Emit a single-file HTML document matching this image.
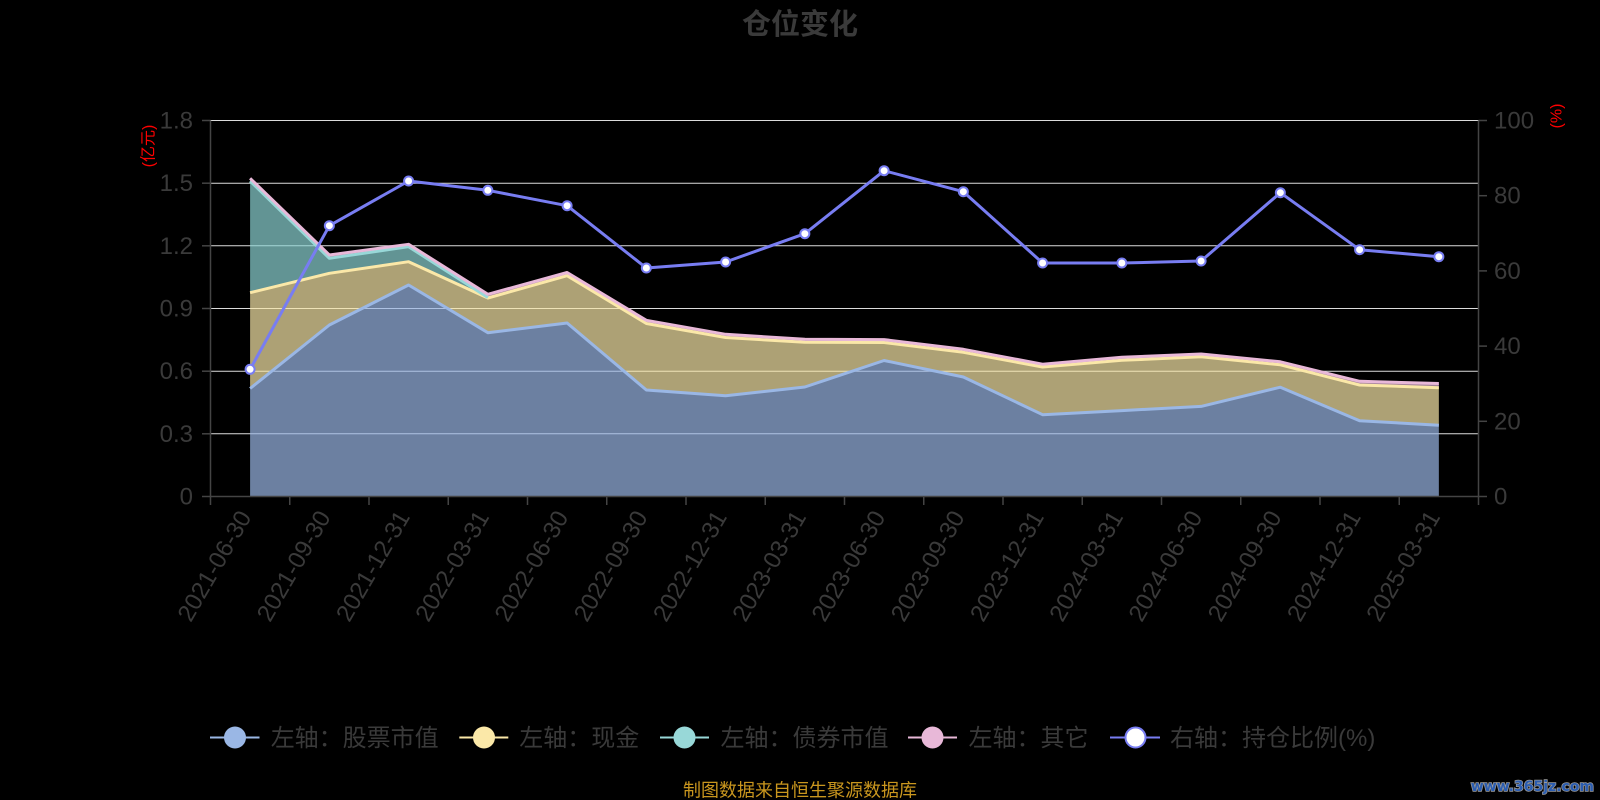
<!DOCTYPE html>
<html>
<head>
<meta charset="utf-8">
<style>
  html,body{margin:0;padding:0;background:#000;}
  svg{display:block;}
  .lat{font-family:"Liberation Sans","Noto Sans CJK SC",sans-serif;}
  .cjk{font-family:"Liberation Sans","Noto Sans CJK SC",sans-serif;}
</style>
</head>
<body>
<svg width="1600" height="800" viewBox="0 0 1600 800" xmlns="http://www.w3.org/2000/svg">
  <rect x="0" y="0" width="1600" height="800" fill="#000"/>

  <!-- Title -->
  <text x="800" y="34" text-anchor="middle" class="cjk" font-size="29" font-weight="bold" fill="#3a3a3a">仓位变化</text>

  <!-- Gridlines -->
  <g stroke="#dcdcdc" stroke-width="1">
    <line x1="210.5" y1="120.5" x2="1478.5" y2="120.5"/>
    <line x1="210.5" y1="183.2" x2="1478.5" y2="183.2"/>
    <line x1="210.5" y1="245.8" x2="1478.5" y2="245.8"/>
    <line x1="210.5" y1="308.5" x2="1478.5" y2="308.5"/>
    <line x1="210.5" y1="371.2" x2="1478.5" y2="371.2"/>
    <line x1="210.5" y1="433.8" x2="1478.5" y2="433.8"/>
  </g>

  <!-- Areas -->
  <g stroke="none">
    <polygon fill="#9ab7e5" fill-opacity="0.7" points="250.1,496.5 250.1,388.5 329.35,325 408.6,285 487.85,332.7 567.1,323 646.35,390 725.6,395.8 804.85,387 884.1,360.5 963.35,377 1042.6,414.7 1121.85,410.6 1201.1,406.4 1280.35,387.2 1359.6,420.7 1438.85,425.2 1438.85,496.5"/>
    <polygon fill="#f6e5a7" fill-opacity="0.7" points="250.1,292.7 329.35,273.3 408.6,261.7 487.85,298 567.1,275.7 646.35,323.5 725.6,337.5 804.85,342.3 884.1,342.5 963.35,352.3 1042.6,367 1121.85,360.3 1201.1,356.8 1280.35,364.8 1359.6,385 1438.85,387.7 1438.85,425.2 1359.6,420.7 1280.35,387.2 1201.1,406.4 1121.85,410.6 1042.6,414.7 963.35,377 884.1,360.5 804.85,387 725.6,395.8 646.35,390 567.1,323 487.85,332.7 408.6,285 329.35,325 250.1,388.5"/>
    <polygon fill="#8cd3d3" fill-opacity="0.7" points="250.1,181 329.35,258.3 408.6,246.7 487.85,297.5 487.85,298 408.6,261.7 329.35,273.3 250.1,292.7"/>
    <polygon fill="#e8b8d8" fill-opacity="0.7" points="250.1,178.3 329.35,255 408.6,244.3 487.85,294.3 567.1,272.5 646.35,320.3 725.6,334.3 804.85,339.3 884.1,339.6 963.35,349.3 1042.6,364.2 1121.85,357.3 1201.1,354 1280.35,361.8 1359.6,381.3 1438.85,383.5 1438.85,387.7 1359.6,385 1280.35,364.8 1201.1,356.8 1121.85,360.3 1042.6,367 963.35,352.3 884.1,342.5 804.85,342.3 725.6,337.5 646.35,323.5 567.1,275.7 487.85,297.5 408.6,246.7 329.35,258.3 250.1,181"/>
  </g>

  <!-- Area lines -->
  <g fill="none" stroke-width="3" stroke-linejoin="round">
    <polyline stroke="#9ab7e5" points="250.1,388.5 329.35,325 408.6,285 487.85,332.7 567.1,323 646.35,390 725.6,395.8 804.85,387 884.1,360.5 963.35,377 1042.6,414.7 1121.85,410.6 1201.1,406.4 1280.35,387.2 1359.6,420.7 1438.85,425.2"/>
    <polyline stroke="#fbe8a8" points="250.1,292.7 329.35,273.3 408.6,261.7 487.85,298 567.1,275.7 646.35,323.5 725.6,337.5 804.85,342.3 884.1,342.5 963.35,352.3 1042.6,367 1121.85,360.3 1201.1,356.8 1280.35,364.8 1359.6,385 1438.85,387.7"/>
    <polyline stroke="#98d8d8" points="250.1,181 329.35,258.3 408.6,246.7 487.85,297.5"/>
    <polyline stroke="#e8b8d8" points="250.1,178.3 329.35,255 408.6,244.3 487.85,294.3 567.1,272.5 646.35,320.3 725.6,334.3 804.85,339.3 884.1,339.6 963.35,349.3 1042.6,364.2 1121.85,357.3 1201.1,354 1280.35,361.8 1359.6,381.3 1438.85,383.5"/>
  </g>

  <!-- Axes -->
  <g stroke="#444" stroke-width="1.5">
    <line x1="210.5" y1="120.5" x2="210.5" y2="496.5"/>
    <line x1="1478.5" y1="120.5" x2="1478.5" y2="496.5"/>
    <line x1="210.5" y1="496.5" x2="1478.5" y2="496.5"/>
    <line x1="202" y1="120.5" x2="210.5" y2="120.5"/>
    <line x1="202" y1="183.2" x2="210.5" y2="183.2"/>
    <line x1="202" y1="245.8" x2="210.5" y2="245.8"/>
    <line x1="202" y1="308.5" x2="210.5" y2="308.5"/>
    <line x1="202" y1="371.2" x2="210.5" y2="371.2"/>
    <line x1="202" y1="433.8" x2="210.5" y2="433.8"/>
    <line x1="202" y1="496.5" x2="210.5" y2="496.5"/>
    <line x1="1478.5" y1="120.5" x2="1487" y2="120.5"/>
    <line x1="1478.5" y1="195.7" x2="1487" y2="195.7"/>
    <line x1="1478.5" y1="270.9" x2="1487" y2="270.9"/>
    <line x1="1478.5" y1="346.1" x2="1487" y2="346.1"/>
    <line x1="1478.5" y1="421.3" x2="1487" y2="421.3"/>
    <line x1="1478.5" y1="496.5" x2="1487" y2="496.5"/>
    <line x1="210.5" y1="496.5" x2="210.5" y2="505"/>
    <line x1="289.75" y1="496.5" x2="289.75" y2="505"/>
    <line x1="369" y1="496.5" x2="369" y2="505"/>
    <line x1="448.25" y1="496.5" x2="448.25" y2="505"/>
    <line x1="527.5" y1="496.5" x2="527.5" y2="505"/>
    <line x1="606.75" y1="496.5" x2="606.75" y2="505"/>
    <line x1="686" y1="496.5" x2="686" y2="505"/>
    <line x1="765.25" y1="496.5" x2="765.25" y2="505"/>
    <line x1="844.5" y1="496.5" x2="844.5" y2="505"/>
    <line x1="923.75" y1="496.5" x2="923.75" y2="505"/>
    <line x1="1003" y1="496.5" x2="1003" y2="505"/>
    <line x1="1082.25" y1="496.5" x2="1082.25" y2="505"/>
    <line x1="1161.5" y1="496.5" x2="1161.5" y2="505"/>
    <line x1="1240.75" y1="496.5" x2="1240.75" y2="505"/>
    <line x1="1320" y1="496.5" x2="1320" y2="505"/>
    <line x1="1399.25" y1="496.5" x2="1399.25" y2="505"/>
    <line x1="1478.5" y1="496.5" x2="1478.5" y2="505"/>
  </g>

  <!-- Left axis labels -->
  <g class="lat" font-size="24" fill="#3a3a3a" text-anchor="end">
    <text x="193" y="128.5">1.8</text>
    <text x="193" y="191.2">1.5</text>
    <text x="193" y="253.8">1.2</text>
    <text x="193" y="316.5">0.9</text>
    <text x="193" y="379.2">0.6</text>
    <text x="193" y="441.8">0.3</text>
    <text x="193" y="504.5">0</text>
  </g>
  <!-- Right axis labels -->
  <g class="lat" font-size="24" fill="#3a3a3a" text-anchor="start">
    <text x="1494" y="128.5">100</text>
    <text x="1494" y="203.7">80</text>
    <text x="1494" y="278.9">60</text>
    <text x="1494" y="354.1">40</text>
    <text x="1494" y="429.3">20</text>
    <text x="1494" y="504.5">0</text>
  </g>

  <!-- Axis names -->
  <text x="149" y="146" class="cjk" font-size="16" fill="#ff0000" text-anchor="middle" dominant-baseline="central" transform="rotate(-90 149 146)">(亿元)</text>
  <text x="1557" y="116" class="lat" font-size="16" fill="#ff0000" text-anchor="middle" dominant-baseline="central" transform="rotate(-90 1557 116)">(%)</text>

  <!-- X labels -->
  <g class="lat" font-size="24" fill="#3a3a3a" text-anchor="end" dominant-baseline="central">
    <text x="245.6" y="513" transform="rotate(-60 245.6 513)">2021-06-30</text>
    <text x="324.85" y="513" transform="rotate(-60 324.85 513)">2021-09-30</text>
    <text x="404.1" y="513" transform="rotate(-60 404.1 513)">2021-12-31</text>
    <text x="483.35" y="513" transform="rotate(-60 483.35 513)">2022-03-31</text>
    <text x="562.6" y="513" transform="rotate(-60 562.6 513)">2022-06-30</text>
    <text x="641.85" y="513" transform="rotate(-60 641.85 513)">2022-09-30</text>
    <text x="721.1" y="513" transform="rotate(-60 721.1 513)">2022-12-31</text>
    <text x="800.35" y="513" transform="rotate(-60 800.35 513)">2023-03-31</text>
    <text x="879.6" y="513" transform="rotate(-60 879.6 513)">2023-06-30</text>
    <text x="958.85" y="513" transform="rotate(-60 958.85 513)">2023-09-30</text>
    <text x="1038.1" y="513" transform="rotate(-60 1038.1 513)">2023-12-31</text>
    <text x="1117.35" y="513" transform="rotate(-60 1117.35 513)">2024-03-31</text>
    <text x="1196.6" y="513" transform="rotate(-60 1196.6 513)">2024-06-30</text>
    <text x="1275.85" y="513" transform="rotate(-60 1275.85 513)">2024-09-30</text>
    <text x="1355.1" y="513" transform="rotate(-60 1355.1 513)">2024-12-31</text>
    <text x="1434.35" y="513" transform="rotate(-60 1434.35 513)">2025-03-31</text>
  </g>

  <!-- Ratio line -->
  <polyline fill="none" stroke="#787df2" stroke-width="3" stroke-linejoin="round" points="250.1,369.3 329.35,225.7 408.6,181 487.85,190.3 567.1,205.7 646.35,268 725.6,262 804.85,233.7 884.1,170.7 963.35,191.7 1042.6,263 1121.85,263 1201.1,261 1280.35,192.7 1359.6,249.7 1438.85,256.7"/>
  <g fill="#fff" stroke="#787df2" stroke-width="2">
    <circle cx="250.1" cy="369.3" r="4.5"/>
    <circle cx="329.35" cy="225.7" r="4.5"/>
    <circle cx="408.6" cy="181" r="4.5"/>
    <circle cx="487.85" cy="190.3" r="4.5"/>
    <circle cx="567.1" cy="205.7" r="4.5"/>
    <circle cx="646.35" cy="268" r="4.5"/>
    <circle cx="725.6" cy="262" r="4.5"/>
    <circle cx="804.85" cy="233.7" r="4.5"/>
    <circle cx="884.1" cy="170.7" r="4.5"/>
    <circle cx="963.35" cy="191.7" r="4.5"/>
    <circle cx="1042.6" cy="263" r="4.5"/>
    <circle cx="1121.85" cy="263" r="4.5"/>
    <circle cx="1201.1" cy="261" r="4.5"/>
    <circle cx="1280.35" cy="192.7" r="4.5"/>
    <circle cx="1359.6" cy="249.7" r="4.5"/>
    <circle cx="1438.85" cy="256.7" r="4.5"/>
  </g>

  <!-- Legend -->
  <g>
    <line x1="210" y1="737.5" x2="259.5" y2="737.5" stroke="#9ab7e5" stroke-width="2"/>
    <circle cx="235" cy="737.5" r="11" fill="#9ab7e5"/>
    <text x="270.7" y="746" class="cjk" font-size="24" fill="#3a3a3a">左轴：股票市值</text>

    <line x1="459.3" y1="737.5" x2="508.3" y2="737.5" stroke="#fbe8a8" stroke-width="2"/>
    <circle cx="484" cy="737.5" r="11" fill="#fbe8a8"/>
    <text x="519.3" y="746" class="cjk" font-size="24" fill="#3a3a3a">左轴：现金</text>

    <line x1="660" y1="737.5" x2="709" y2="737.5" stroke="#98d8d8" stroke-width="2"/>
    <circle cx="684.5" cy="737.5" r="11" fill="#98d8d8"/>
    <text x="720.5" y="746" class="cjk" font-size="24" fill="#3a3a3a">左轴：债券市值</text>

    <line x1="908" y1="737.5" x2="957" y2="737.5" stroke="#e8b8d8" stroke-width="2"/>
    <circle cx="932.5" cy="737.5" r="11" fill="#e8b8d8"/>
    <text x="968.5" y="746" class="cjk" font-size="24" fill="#3a3a3a">左轴：其它</text>

    <line x1="1110" y1="737.5" x2="1160" y2="737.5" stroke="#787df2" stroke-width="2"/>
    <circle cx="1135.5" cy="737.5" r="10" fill="#fff" stroke="#787df2" stroke-width="2"/>
    <text x="1170" y="746" class="cjk" font-size="24" fill="#3a3a3a">右轴：持仓比例(%)</text>
  </g>

  <!-- Source -->
  <text x="800" y="796.5" text-anchor="middle" class="cjk" font-size="18" fill="#c9961e">制图数据来自恒生聚源数据库</text>

  <!-- Watermark -->
  <text x="1594" y="791" text-anchor="end" font-family="'DejaVu Sans', sans-serif" font-weight="bold" font-size="14" fill="#2a5cb0" stroke="#9a9a9a" stroke-width="1.5" paint-order="stroke">www.365jz.com</text>
</svg>
</body>
</html>
